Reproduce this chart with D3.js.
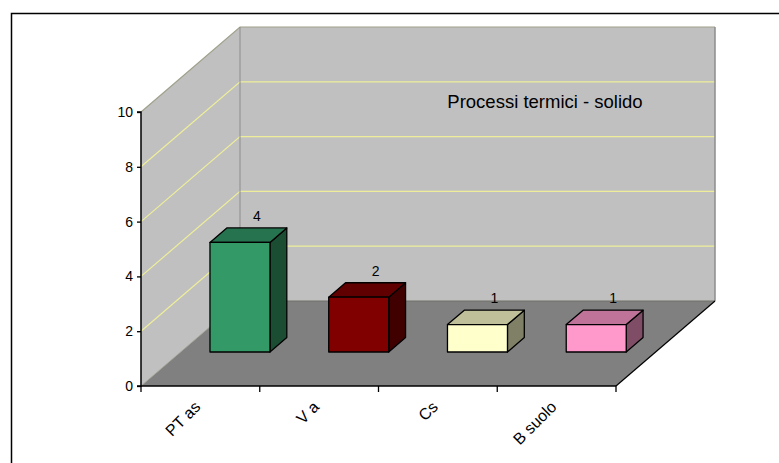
<!DOCTYPE html>
<html>
<head>
<meta charset="utf-8">
<script src="https://cdn.jsdelivr.net/npm/d3@7"></script>
<style>
  body { margin: 0; background: #fff; }
  svg { display: block; font-family: "Liberation Sans", Arial, sans-serif; }
</style>
</head>
<body>
<svg id="chart" width="779" height="463"></svg>
<script>
// Chart data
const categories = ["PT as", "V a", "Cs", "B suolo"];
const values = [4, 2, 1, 1];
const yTicks = [0, 2, 4, 6, 8, 10];
const chartTitle = "Processi termici - solido";

// Bar colours: front, top, side faces
const frontColors = ["#339966", "#800000", "#ffffcc", "#ff99cc"];
const topColors   = ["#267350", "#600000", "#bfbf99", "#bf7399"];
const sideColors  = ["#1b4d33", "#400000", "#808066", "#804d66"];

const FONT = "'Liberation Sans', Arial, sans-serif";
const svg = d3.select("#chart");

// Outer frame (top and left edges)
svg.append("path")
  .attr("d", "M11.5,463 V13.5 H779")
  .attr("fill", "none").attr("stroke", "#000").attr("stroke-width", 1.5);

// Front plane scales
const x = d3.scaleBand().domain(categories).range([141, 616]).paddingInner(0).paddingOuter(0);
const y = d3.scaleLinear().domain([0, 10]).range([386, 112]);

// Depth projection (full depth of the plot box)
const DX = 99, DY = -85;
const proj = (px, py, d) => [px + DX * d, py + DY * d];

const x0 = x.range()[0], x1 = x.range()[1];
const yBase = y(0), yTop = y(10);
const pts = a => a.map(p => p.join(",")).join(" ");

// Left wall
svg.append("polygon")
  .attr("points", pts([[x0, yBase], [x0, yTop], proj(x0, yTop, 1), proj(x0, yBase, 1)]))
  .attr("fill", "#c0c0c0");
// Back wall
svg.append("polygon")
  .attr("points", pts([proj(x0, yBase, 1), proj(x0, yTop, 1), proj(x1, yTop, 1), proj(x1, yBase, 1)]))
  .attr("fill", "#c0c0c0");
// Floor
svg.append("polygon")
  .attr("points", pts([[x0, yBase], proj(x0, yBase, 1), proj(x1, yBase, 1), [x1, yBase]]))
  .attr("fill", "#808080");

// Gridlines on both walls
const grid = svg.append("g").attr("stroke", "#eeee9a").attr("stroke-width", 1.2).attr("fill", "none");
yTicks.filter(v => v > 0 && v < 10).forEach(v => {
  const a = [x0, y(v)], b = proj(x0, y(v), 1), c = proj(x1, y(v), 1);
  grid.append("polyline").attr("points", pts([a, b, c]));
});

// Wall edges
const edges = svg.append("g").attr("fill", "none");
edges.append("polyline")
  .attr("points", pts([[x0, yTop], proj(x0, yTop, 1), proj(x1, yTop, 1)]))
  .attr("stroke", "#a0a08c").attr("stroke-width", 1.2);
edges.append("line")
  .attr("x1", proj(x0, yTop, 1)[0]).attr("y1", proj(x0, yTop, 1)[1])
  .attr("x2", proj(x0, yBase, 1)[0]).attr("y2", proj(x0, yBase, 1)[1])
  .attr("stroke", "#8c8c8c").attr("stroke-width", 1);
edges.append("line")
  .attr("x1", proj(x1, yTop, 1)[0]).attr("y1", proj(x1, yTop, 1)[1])
  .attr("x2", proj(x1, yBase, 1)[0]).attr("y2", proj(x1, yBase, 1)[1])
  .attr("stroke", "#8c8c8c").attr("stroke-width", 1.5);
edges.append("line")
  .attr("x1", proj(x0, yBase, 1)[0]).attr("y1", proj(x0, yBase, 1)[1])
  .attr("x2", proj(x1, yBase, 1)[0]).attr("y2", proj(x1, yBase, 1)[1])
  .attr("stroke", "#6e6e66").attr("stroke-width", 1.2);
edges.append("line")
  .attr("x1", x0).attr("y1", yBase)
  .attr("x2", proj(x0, yBase, 1)[0]).attr("y2", proj(x0, yBase, 1)[1])
  .attr("stroke", "#a0a090").attr("stroke-width", 0.8);
edges.append("line")
  .attr("x1", x1).attr("y1", yBase)
  .attr("x2", proj(x1, yBase, 1)[0]).attr("y2", proj(x1, yBase, 1)[1])
  .attr("stroke", "#000").attr("stroke-width", 1.2);

// Bars: boxes positioned in the middle of the depth
const dFront = 0.4, dBack = 0.57;
const barW = 60;
const bars = svg.append("g").attr("stroke", "#000").attr("stroke-width", 1.3).attr("stroke-linejoin", "round");
categories.forEach((c, i) => {
  const cx = x(c) + x.bandwidth() / 2;
  const l = cx - barW / 2, r = cx + barW / 2;
  const yb = y(0), yt = y(values[i]);
  const fl_b = proj(l, yb, dFront), fr_b = proj(r, yb, dFront);
  const fl_t = proj(l, yt, dFront), fr_t = proj(r, yt, dFront);
  const bl_t = proj(l, yt, dBack), br_t = proj(r, yt, dBack), br_b = proj(r, yb, dBack);
  const g = bars.append("g");
  g.append("polygon").attr("points", pts([fr_b, fr_t, br_t, br_b])).attr("fill", sideColors[i]);
  g.append("polygon").attr("points", pts([fl_t, bl_t, br_t, fr_t])).attr("fill", topColors[i]);
  g.append("polygon").attr("points", pts([fl_b, fl_t, fr_t, fr_b])).attr("fill", frontColors[i]);
  // value label above the bar
  const lab = proj(cx, yt, dBack);
  svg.append("text")
    .attr("x", lab[0]).attr("y", lab[1] - 7)
    .attr("text-anchor", "middle")
    .attr("font-family", FONT)
    .attr("font-size", 14).attr("fill", "#000")
    .text(values[i]);
});

// Value axis on the front left edge
const yAxis = d3.axisLeft(y).tickValues(yTicks).tickSize(4).tickPadding(4).tickFormat(d3.format("d"));
const ya = svg.append("g").attr("transform", `translate(${x0},0)`).call(yAxis)
  .attr("font-size", 14).attr("font-family", FONT);
ya.select(".domain").attr("stroke-width", 1.5).attr("d", `M-4,${yTop}H0V${yBase}H-4`);
ya.selectAll(".tick line").attr("stroke-width", 1.3);
ya.selectAll("text").attr("fill", "#000");

// Category axis along the front floor edge
const xAxis = d3.axisBottom(x).tickSize(0).tickFormat("");
const xa = svg.append("g").attr("transform", `translate(0,${yBase})`).call(xAxis);
xa.select(".domain").attr("stroke-width", 1.5).attr("d", `M${x0},0H${x1}`);
const bounds = categories.map(c => x(c)).concat([x1]);
xa.selectAll(".bound").data(bounds).enter().append("line")
  .attr("x1", d => d).attr("x2", d => d).attr("y1", 0).attr("y2", 6)
  .attr("stroke", "#000").attr("stroke-width", 1.3);

// Rotated category labels
svg.append("g").selectAll("text").data(categories).enter().append("text")
  .attr("transform", d => `translate(${x(d) + x.bandwidth() / 2 - 3},${yBase + 18}) rotate(-45)`)
  .attr("text-anchor", "end")
  .attr("dy", "0.35em")
  .attr("font-family", FONT)
  .attr("font-size", 16)
  .attr("fill", "#000")
  .text(d => d);

// Title inside the plot
svg.append("text")
  .attr("x", 545).attr("y", 108)
  .attr("text-anchor", "middle")
  .attr("font-family", FONT)
  .attr("font-size", 18.5)
  .attr("fill", "#000")
  .text(chartTitle);
</script>
</body>
</html>
